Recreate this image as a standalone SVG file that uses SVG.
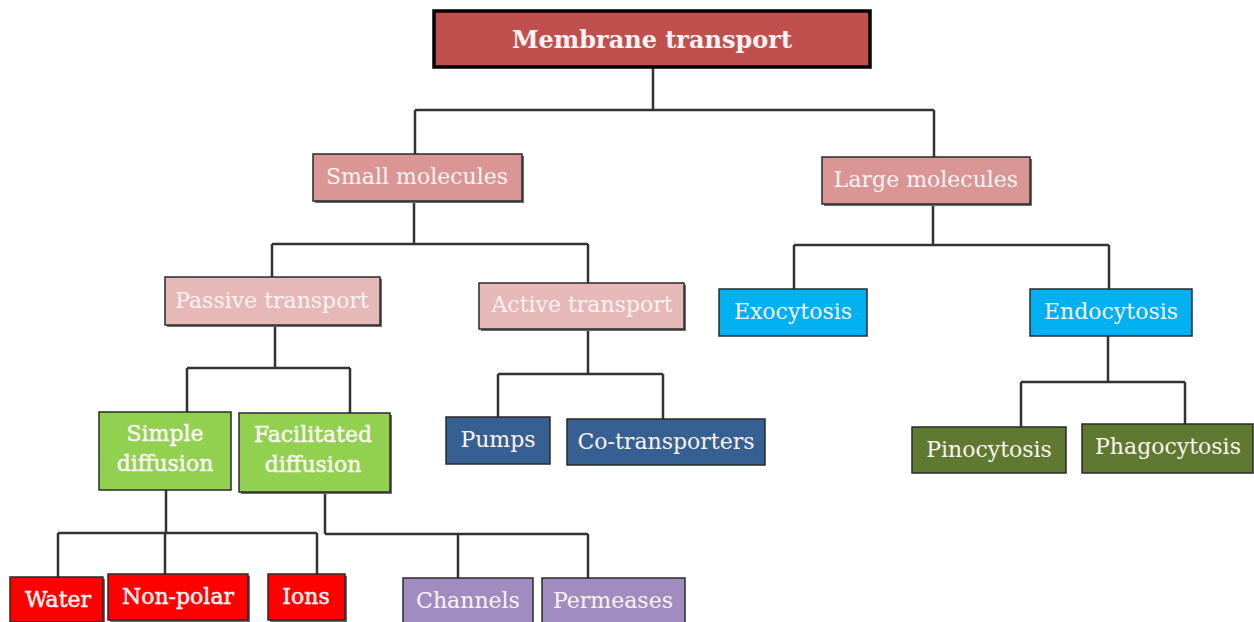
<svg xmlns="http://www.w3.org/2000/svg" width="1254" height="622" viewBox="0 0 1254 622">
<style>
.sh{fill:#6b6b6b}
.b{stroke:#2a2a2a;stroke-width:1.5}
.t{font-family:"DejaVu Serif","Liberation Serif",serif;font-size:22px;fill:#fbf3f3;text-anchor:middle}
.bd{font-weight:bold;font-size:24px}
.sb{stroke:#fbf3f3;stroke-width:0.5}
.c{fill:none;stroke:#333;stroke-width:2.5}
</style>
<rect width="1254" height="622" fill="#fff"/>
<g id="connectors" class="c">
<path d="M653 67V110M415 110H934M415 110V154M934 110V157"/>
<path d="M414 201V244M272 244H588M272 244V277M588 244V283"/>
<path d="M933 204V245M794 245H1109M794 245V289M1109 245V289"/>
<path d="M275 325V368M187 368H350M187 368V412M350 368V413"/>
<path d="M588 329V374M498 374H663M498 374V417M663 374V419"/>
<path d="M1108 336V382M1021 382H1185M1021 382V427M1185 382V424"/>
<path d="M166 490V533M58 533H317M58 533V577M165 533V574M317 533V574"/>
<path d="M325 492V534M325 534H588M458 534V578M588 534V578"/>
</g>
<g id="n-membrane">
<rect x="434" y="11" width="436" height="56" fill="#C0504D" stroke="#000" stroke-width="3.5"/>
<text class="t bd" x="652" y="48">Membrane transport</text>
</g>
<g id="n-small">
<rect class="sh" x="315" y="156" width="209" height="47"/>
<rect class="b" x="313" y="154" width="209" height="47" fill="#D99694"/>
<text class="t" x="417" y="184">Small molecules</text>
</g>
<g id="n-large">
<rect class="sh" x="824" y="159" width="208" height="47"/>
<rect class="b" x="822" y="157" width="208" height="47" fill="#D99694"/>
<text class="t" x="926" y="187">Large molecules</text>
</g>
<g id="n-passive">
<rect class="sh" x="167" y="279" width="215" height="48"/>
<rect class="b" x="165" y="277" width="215" height="48" fill="#E6B9B8"/>
<text class="t" x="272" y="308">Passive transport</text>
</g>
<g id="n-active">
<rect class="sh" x="481" y="285" width="205" height="46"/>
<rect class="b" x="479" y="283" width="205" height="46" fill="#E6B9B8"/>
<text class="t" x="582" y="312">Active transport</text>
</g>
<g id="n-exo">
<rect class="b" x="719" y="289" width="148" height="47" fill="#00B0F0"/>
<text class="t" x="793" y="319">Exocytosis</text>
</g>
<g id="n-endo">
<rect class="b" x="1030" y="289" width="162" height="47" fill="#00B0F0"/>
<text class="t" x="1111" y="319">Endocytosis</text>
</g>
<g id="n-simple">
<rect class="b" x="99" y="412" width="132" height="78" fill="#92D050"/>
<text class="t sb" x="165" y="441">Simple</text>
<text class="t sb" x="165" y="471">diffusion</text>
</g>
<g id="n-facilitated">
<rect class="sh" x="241" y="415" width="151" height="79"/>
<rect class="b" x="239" y="413" width="151" height="79" fill="#92D050"/>
<text class="t sb" x="313" y="442">Facilitated</text>
<text class="t sb" x="313" y="472">diffusion</text>
</g>
<g id="n-pumps">
<rect class="b" x="446" y="417" width="104" height="47" fill="#376092"/>
<text class="t" x="498" y="447">Pumps</text>
</g>
<g id="n-cotrans">
<rect class="b" x="567" y="419" width="198" height="46" fill="#376092"/>
<text class="t" x="666" y="449">Co-transporters</text>
</g>
<g id="n-pino">
<rect class="b" x="912" y="427" width="154" height="46" fill="#5F7A30"/>
<text class="t" x="989" y="457">Pinocytosis</text>
</g>
<g id="n-phago">
<rect class="b" x="1082" y="424" width="171" height="49" fill="#5F7A30"/>
<text class="t" x="1168" y="454">Phagocytosis</text>
</g>
<g id="n-water">
<rect class="sh" x="12" y="579" width="93" height="45"/>
<rect class="b" x="10" y="577" width="93" height="45" fill="#FF0000"/>
<text class="t sb" x="58" y="607">Water</text>
</g>
<g id="n-nonpolar">
<rect class="sh" x="110" y="576" width="140" height="46"/>
<rect class="b" x="108" y="574" width="140" height="46" fill="#FF0000"/>
<text class="t sb" x="178" y="604">Non-polar</text>
</g>
<g id="n-ions">
<rect class="sh" x="270" y="576" width="77" height="46"/>
<rect class="b" x="268" y="574" width="77" height="46" fill="#FF0000"/>
<text class="t sb" x="306" y="604">Ions</text>
</g>
<g id="n-channels">
<rect class="b" x="403" y="578" width="130" height="46" fill="#A18CBF"/>
<text class="t" x="468" y="608">Channels</text>
</g>
<g id="n-permeases">
<rect class="b" x="542" y="578" width="143" height="46" fill="#A18CBF"/>
<text class="t" x="613" y="608">Permeases</text>
</g>
</svg>
